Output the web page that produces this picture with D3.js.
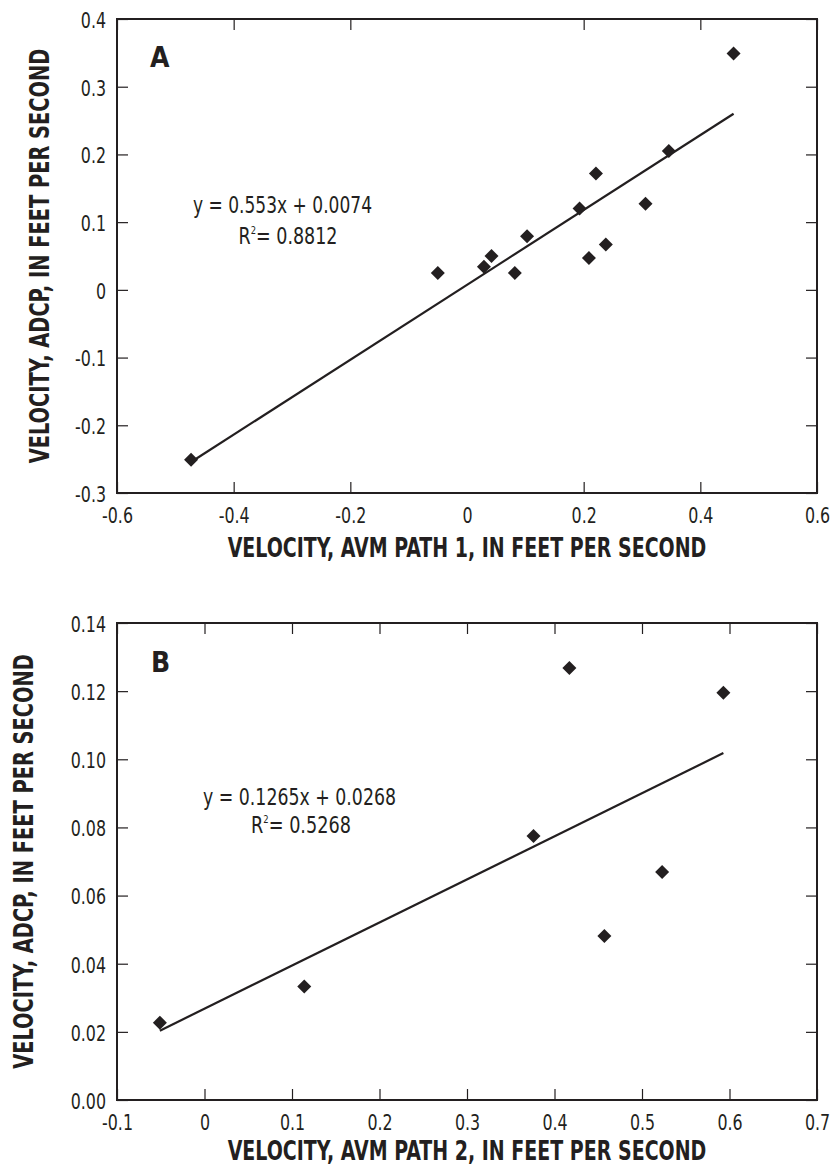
<!DOCTYPE html>
<html>
<head>
<meta charset="utf-8">
<script src="https://cdn.jsdelivr.net/npm/d3@7"></script>
<style>
  html, body { margin: 0; padding: 0; background: #fff; }
  svg { display: block; }
  .tick text { font-family: "Liberation Sans Narrow", "DejaVu Sans Condensed", sans-serif; font-size: 21px; fill: #231f20; }
  .tick line { stroke: #231f20; stroke-width: 1.2; }
  .title { font-family: "Liberation Sans Narrow", "DejaVu Sans Condensed", sans-serif; font-weight: bold; font-size: 26px; fill: #231f20; }
  .eq { font-family: "Liberation Sans Narrow", "DejaVu Sans Condensed", sans-serif; font-size: 23px; fill: #231f20; }
  .letter { font-family: "Liberation Sans Narrow", "DejaVu Sans Condensed", sans-serif; font-weight: bold; font-size: 28px; fill: #231f20; }
</style>
</head>
<body>
<svg id="chart" width="832" height="1167"></svg>
<script>
// Panel A: AVM path 1 vs ADCP velocities (ft/s)
const avmPath1 = [-0.473, -0.050, 0.029, 0.042, 0.082, 0.103, 0.193, 0.209, 0.221, 0.238, 0.306, 0.346, 0.457];
const adcpA    = [-0.251, 0.025, 0.034, 0.050, 0.025, 0.079, 0.120, 0.047, 0.172, 0.067, 0.127, 0.205, 0.349];
const fitA = { slope: 0.553, intercept: 0.0074, r2: "0.8812" };
const xTicksA = [-0.6, -0.4, -0.2, 0.2, 0.4, 0.6];
const xLabelsA = [-0.6, -0.4, -0.2, 0, 0.2, 0.4, 0.6];
const yTicksA = [-0.3, -0.2, -0.1, 0, 0.1, 0.2, 0.3, 0.4];

// Panel B: AVM path 2 vs ADCP velocities (ft/s)
const avmPath2 = [-0.051, 0.114, 0.376, 0.417, 0.457, 0.523, 0.593];
const adcpB    = [0.0227, 0.0333, 0.0775, 0.1268, 0.0481, 0.0669, 0.1195];
const fitB = { slope: 0.1265, intercept: 0.0268, r2: "0.5268" };
const xTicksB = [-0.1, 0, 0.1, 0.2, 0.3, 0.4, 0.5, 0.6, 0.7];
const yTicksB = [0.00, 0.02, 0.04, 0.06, 0.08, 0.10, 0.12, 0.14];

const svg = d3.select("#chart");
const ink = "#231f20";
const labelSquash = 0.84;

// squeeze a text element horizontally so it spans the given width
function fitWidth(sel, width, anchorX, anchorY, rotate) {
  const w = sel.node().getComputedTextLength();
  const s = Math.min(1, width / w);
  sel.attr("x", 0).attr("y", 0)
    .attr("transform", `translate(${anchorX},${anchorY})${rotate ? " rotate(" + rotate + ")" : ""} scale(${s},1)`);
}

function panel(cfg) {
  const { left, right, top, bottom } = cfg.box;
  const x = d3.scaleLinear().domain(cfg.xDomain).range([left, right]);
  const y = d3.scaleLinear().domain(cfg.yDomain).range([bottom, top]);
  const g = svg.append("g");
  const tick = 11;

  // tick marks on all four sides, pointing inward
  g.append("g").attr("transform", `translate(0,${bottom})`)
    .call(d3.axisBottom(x).tickValues(cfg.xTicks).tickSizeInner(-tick).tickSizeOuter(0).tickFormat(""))
    .call(a => a.select(".domain").remove());
  g.append("g").attr("transform", `translate(0,${top})`)
    .call(d3.axisTop(x).tickValues(cfg.xTicks).tickSizeInner(-tick).tickSizeOuter(0).tickFormat(""))
    .call(a => a.select(".domain").remove());
  g.append("g").attr("transform", `translate(${left},0)`)
    .call(d3.axisLeft(y).tickValues(cfg.yTicks).tickSizeInner(-tick).tickSizeOuter(0).tickFormat(""))
    .call(a => a.select(".domain").remove());
  g.append("g").attr("transform", `translate(${right},0)`)
    .call(d3.axisRight(y).tickValues(cfg.yTicks).tickSizeInner(-tick).tickSizeOuter(0).tickFormat(""))
    .call(a => a.select(".domain").remove());

  // tick labels (narrowed horizontally)
  g.append("g").attr("transform", `translate(0,${bottom})`)
    .call(d3.axisBottom(x).tickValues(cfg.xLabels).tickSize(0).tickPadding(15).tickFormat(cfg.xFmt))
    .call(a => a.select(".domain").remove())
    .call(a => a.selectAll("text").attr("dy", "0.71em").attr("transform", `scale(${labelSquash},1)`));
  g.append("g").attr("transform", `translate(${left},0)`)
    .call(d3.axisLeft(y).tickValues(cfg.yTicks).tickSize(0).tickPadding(11).tickFormat(cfg.yFmt))
    .call(a => a.select(".domain").remove())
    .call(a => a.selectAll("text").attr("dy", "0.40em")
      .attr("x", -11 / labelSquash).attr("transform", `scale(${labelSquash},1)`));

  // frame
  g.append("rect")
    .attr("x", left).attr("y", top)
    .attr("width", right - left).attr("height", bottom - top)
    .attr("fill", "none").attr("stroke", ink).attr("stroke-width", 2);

  // regression line
  const xs = d3.extent(cfg.xs);
  g.append("line")
    .attr("x1", x(xs[0])).attr("y1", y(cfg.fit.slope * xs[0] + cfg.fit.intercept))
    .attr("x2", x(xs[1])).attr("y2", y(cfg.fit.slope * xs[1] + cfg.fit.intercept))
    .attr("stroke", ink).attr("stroke-width", 2.2);

  // data points
  const diamond = d3.symbol().type(d3.symbolSquare).size(98);
  g.append("g").selectAll("path")
    .data(cfg.xs.map((v, i) => [v, cfg.ys[i]]))
    .join("path")
    .attr("d", diamond)
    .attr("transform", d => `translate(${x(d[0])},${y(d[1])}) rotate(45)`)
    .attr("fill", ink);

  // panel letter
  const letter = g.append("text").attr("class", "letter").text(cfg.letter);
  fitWidth(letter, 22, cfg.letterPos[0], cfg.letterPos[1]);

  // equation
  const eq = g.append("text").attr("class", "eq")
    .attr("text-anchor", "middle")
    .text(`y = ${cfg.fit.slope}x + ${cfg.fit.intercept}`);
  fitWidth(eq, cfg.eqWidth, cfg.eqPos[0], cfg.eqPos[1]);
  const r2 = g.append("text").attr("class", "eq").attr("text-anchor", "middle");
  r2.append("tspan").text("R");
  r2.append("tspan").attr("font-size", "11px").attr("dy", "-10").text("2");
  r2.append("tspan").attr("dy", "10").text("= " + cfg.fit.r2);
  fitWidth(r2, cfg.r2Width, cfg.r2Pos[0], cfg.r2Pos[1]);

  // axis titles
  const xt = g.append("text").attr("class", "title")
    .attr("text-anchor", "middle").text(cfg.xTitle);
  fitWidth(xt, 479, (left + right) / 2, cfg.xTitleY);
  const yt = g.append("text").attr("class", "title")
    .attr("text-anchor", "middle").text(cfg.yTitle);
  fitWidth(yt, 415, cfg.yTitleX, (top + bottom) / 2, -90);
}

// plain hyphen for negatives
const fmt1 = d => d === 0 ? "0" : d3.format(".1f")(d).replace("\u2212", "-");
const fmt2 = d => d3.format(".2f")(d).replace("\u2212", "-");

panel({
  box: { left: 117, right: 817, top: 19, bottom: 493 },
  xDomain: [-0.6, 0.6], yDomain: [-0.3, 0.4],
  xTicks: xTicksA, xLabels: xLabelsA, yTicks: yTicksA,
  xFmt: fmt1, yFmt: fmt1,
  xs: avmPath1, ys: adcpA, fit: fitA,
  letter: "A", letterPos: [150, 67],
  eqPos: [282.5, 213], eqWidth: 179, r2Pos: [288, 244], r2Width: 99,
  xTitle: "VELOCITY, AVM PATH 1, IN FEET PER SECOND", xTitleY: 557,
  yTitle: "VELOCITY, ADCP, IN FEET PER SECOND", yTitleX: 49
});

panel({
  box: { left: 117, right: 817, top: 623, bottom: 1100 },
  xDomain: [-0.1, 0.7], yDomain: [0, 0.14],
  xTicks: xTicksB, xLabels: xTicksB, yTicks: yTicksB,
  xFmt: fmt1, yFmt: fmt2,
  xs: avmPath2, ys: adcpB, fit: fitB,
  letter: "B", letterPos: [151, 672],
  eqPos: [299.5, 805], eqWidth: 193, r2Pos: [301, 833], r2Width: 100,
  xTitle: "VELOCITY, AVM PATH 2, IN FEET PER SECOND", xTitleY: 1160,
  yTitle: "VELOCITY, ADCP, IN FEET PER SECOND", yTitleX: 33
});
</script>
</body>
</html>
